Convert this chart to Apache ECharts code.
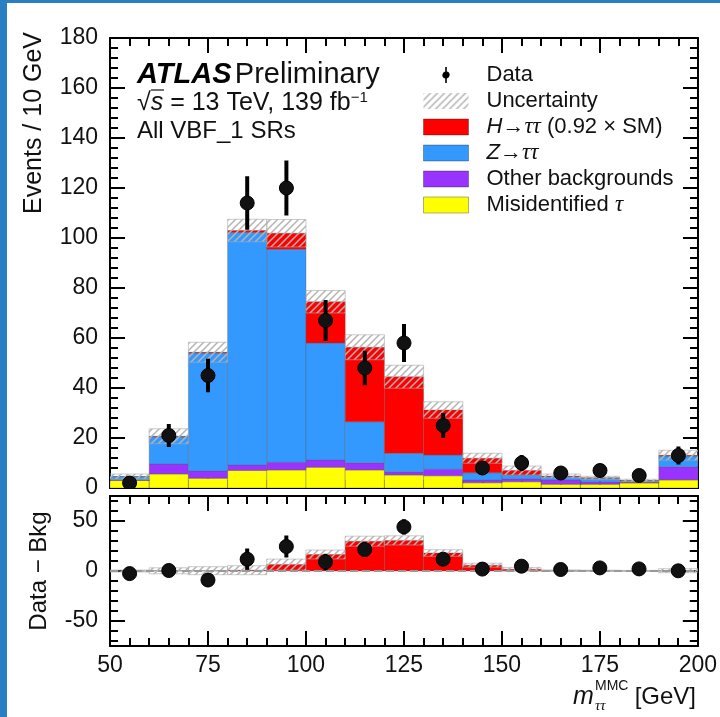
<!DOCTYPE html>
<html>
<head>
<meta charset="utf-8">
<title>VBF_1 mass distribution</title>
<script src="https://cdn.jsdelivr.net/npm/echarts@6.0.0/dist/echarts.min.js"></script>
<style>
  html, body { margin: 0; padding: 0; background: #fff; }
  #chart { position: absolute; left: 0; top: 0; width: 720px; height: 717px; }
  .edge { position: absolute; background: #2a7fc3; }
</style>
</head>
<body>
<div id="chart"></div>
<div class="edge" style="left:0;top:0;width:7px;height:717px"></div>
<div class="edge" style="left:0;top:0;width:720px;height:3px"></div>
<script>
var FONT = '"Liberation Sans", Arial, Helvetica, sans-serif';
var SERIF = '"Liberation Serif", "DejaVu Serif", serif';

// 10 GeV bins
var binEdges   = [50, 60, 70, 80, 90, 100, 110, 120, 130, 140, 150, 160, 170, 180, 190, 200];
var misidTau   = [3.0, 5.6, 3.9, 7.0, 7.2, 8.3, 7.2, 5.2, 4.9, 2.1, 2.5, 1.5, 1.5, 2.0, 3.2];
var otherBkg   = [0.3, 4.0, 2.9, 2.2, 3.1, 2.9, 2.9, 1.3, 2.6, 1.1, 1.1, 1.7, 1.0, 0.4, 5.3];
var zTauTau    = [1.3, 10.9, 47.2, 93.0, 85.2, 46.8, 16.4, 7.4, 5.7, 2.9, 1.6, 1.3, 1.4, 0.5, 4.3];
var hTauTau    = [0.0, 0.2, 0.3, 0.8, 6.4, 16.5, 29.8, 30.6, 18.0, 5.8, 1.8, 0.3, 0.2, 0.1, 0.3];
var dataCounts = [2, 21, 45, 114, 120, 67, 48, 58, 25, 8, 10, 6, 7, 5, 13];
var dataErr    = [1.4, 4.6, 6.7, 10.7, 11.0, 8.2, 6.9, 7.6, 5.0, 2.8, 3.2, 2.4, 2.6, 2.2, 3.6];
var systUnc    = [1.0, 3.0, 4.0, 4.5, 5.5, 4.5, 5.0, 4.6, 3.3, 2.0, 1.8, 0.8, 0.6, 0.5, 2.0];
var ratioMajorTicks = [-50, 0, 50];
var ratioMinorTicks = [-70, -60, -40, -30, -20, -10, 10, 20, 30, 40, 60, 70];

// grey hatch for the uncertainty band
function makeHatch() {
    var c = document.createElement('canvas');
    c.width = 7; c.height = 7;
    var ctx = c.getContext('2d');
    ctx.strokeStyle = '#b4b4b4';
    ctx.lineWidth = 1.5;
    ctx.beginPath();
    ctx.moveTo(-1, 8); ctx.lineTo(8, -1);
    ctx.moveTo(-4.5, 4.5); ctx.lineTo(4.5, -4.5);
    ctx.moveTo(2.5, 11.5); ctx.lineTo(11.5, 2.5);
    ctx.stroke();
    return {type: 'pattern', image: c, repeat: 'repeat'};
}
var hatch = makeHatch();

function renderBin(params, api) {
    var a = api.coord([api.value(0), api.value(3)]);
    var b = api.coord([api.value(1), api.value(2)]);
    return {
        type: 'rect',
        shape: {x: a[0], y: a[1], width: b[0] - a[0], height: b[1] - a[1]},
        style: {fill: api.visual('color'), stroke: 'rgba(90,90,90,0.35)', lineWidth: 1}
    };
}
function renderHatch(params, api) {
    var a = api.coord([api.value(0), api.value(3)]);
    var b = api.coord([api.value(1), api.value(2)]);
    return {
        type: 'rect',
        shape: {x: a[0], y: a[1], width: b[0] - a[0], height: b[1] - a[1]},
        style: {fill: hatch, stroke: 'rgba(170,170,170,0.6)', lineWidth: 1}
    };
}
function renderPoint(params, api) {
    var x = api.value(0), y = api.value(1), e = api.value(2);
    var c = api.coord([x, y]);
    var lo = api.coord([x, y - e]);
    var hi = api.coord([x, y + e]);
    return {
        type: 'group',
        children: [
            {type: 'line', shape: {x1: c[0], y1: lo[1], x2: c[0], y2: hi[1]}, style: {stroke: '#000', lineWidth: 4}},
            {type: 'circle', shape: {cx: c[0], cy: c[1], r: 7}, style: {fill: '#111', stroke: '#000', lineWidth: 1}}
        ]
    };
}

var stackDefs = [
    {key: 'misid', values: misidTau, color: '#ffff00'},
    {key: 'other', values: otherBkg, color: '#9933ff'},
    {key: 'ztt', values: zTauTau, color: '#3399ff'},
    {key: 'htt', values: hTauTau, color: '#ff0000'}
];
var totals = dataCounts.map(function () { return 0; });
var series = stackDefs.map(function (d) {
    var rows = d.values.map(function (v, i) {
        var r = [binEdges[i], binEdges[i + 1], totals[i], totals[i] + v];
        totals[i] += v;
        return r;
    });
    return {
        name: d.key, type: 'custom', xAxisIndex: 0, yAxisIndex: 0,
        renderItem: renderBin, encode: {x: [0, 1], y: [2, 3]},
        itemStyle: {color: d.color}, data: rows, z: 2, clip: true, animation: false
    };
});
series.push({
    name: 'Uncertainty', type: 'custom', xAxisIndex: 0, yAxisIndex: 0,
    renderItem: renderHatch, encode: {x: [0, 1], y: [2, 3]},
    itemStyle: {color: hatch}, z: 3, clip: true, animation: false,
    data: systUnc.map(function (u, i) { return [binEdges[i], binEdges[i + 1], totals[i] - u, totals[i] + u]; })
});
series.push({
    name: 'Data', type: 'custom', xAxisIndex: 0, yAxisIndex: 0,
    renderItem: renderPoint, encode: {x: 0, y: 1},
    itemStyle: {color: '#000'}, z: 5, clip: true, animation: false,
    data: dataCounts.map(function (n, i) { return [(binEdges[i] + binEdges[i + 1]) / 2, n, dataErr[i]]; })
});

// lower panel: data minus background
series.push({
    name: 'htt', type: 'custom', xAxisIndex: 2, yAxisIndex: 2,
    renderItem: renderBin, encode: {x: [0, 1], y: [2, 3]},
    itemStyle: {color: '#ff0000'}, z: 2, clip: true, animation: false,
    data: hTauTau.map(function (h, i) { return [binEdges[i], binEdges[i + 1], 0, h]; })
});
series.push({
    name: 'Uncertainty', type: 'custom', xAxisIndex: 2, yAxisIndex: 2,
    renderItem: renderHatch, encode: {x: [0, 1], y: [2, 3]},
    itemStyle: {color: hatch}, z: 3, clip: true, animation: false,
    data: systUnc.map(function (u, i) { return [binEdges[i], binEdges[i + 1], hTauTau[i] - u, hTauTau[i] + u]; })
});
series.push({
    name: 'Data', type: 'custom', xAxisIndex: 2, yAxisIndex: 2,
    renderItem: renderPoint, encode: {x: 0, y: 1},
    itemStyle: {color: '#000'}, z: 5, clip: true, animation: false,
    markLine: {
        silent: true, symbol: 'none', animation: false,
        label: {show: false},
        lineStyle: {color: '#999', type: 'dashed', width: 2},
        data: [{yAxis: 0}]
    },
    data: dataCounts.map(function (n, i) {
        var bkg = totals[i] - hTauTau[i];
        return [(binEdges[i] + binEdges[i + 1]) / 2, n - bkg, dataErr[i]];
    })
});

var axisLine = {show: true, onZero: false, lineStyle: {color: '#000', width: 2}};
function xAxisOf(grid, pos, labels) {
    return {
        type: 'value', gridIndex: grid, position: pos, min: 50, max: 200, interval: 25,
        axisLine: axisLine,
        axisTick: {inside: true, length: 15, lineStyle: {color: '#000', width: 2}},
        minorTick: {show: true, splitNumber: 5, length: 8, lineStyle: {color: '#000', width: 2}},
        axisLabel: {show: labels, fontFamily: FONT, fontSize: 23, color: '#111', margin: 8},
        splitLine: {show: false}
    };
}
function mainY(pos, labels) {
    return {
        type: 'value', gridIndex: 0, position: pos, min: 0, max: 180, interval: 20,
        axisLine: axisLine,
        axisTick: {inside: true, length: 15, lineStyle: {color: '#000', width: 2}},
        minorTick: {show: true, splitNumber: 5, length: 8, lineStyle: {color: '#000', width: 2}},
        axisLabel: {show: labels, fontFamily: FONT, fontSize: 23, color: '#111', margin: 12},
        splitLine: {show: false}
    };
}
function ratioY(pos, major) {
    return {
        type: 'value', gridIndex: 1, position: pos, min: -75, max: 75,
        axisLine: axisLine,
        axisTick: {inside: true, length: major ? 15 : 8, customValues: major ? ratioMajorTicks : ratioMinorTicks,
            lineStyle: {color: '#000', width: 2}},
        axisLabel: {show: major && pos === 'left', customValues: ratioMajorTicks,
            fontFamily: FONT, fontSize: 23, color: '#111', margin: 12},
        splitLine: {show: false}
    };
}

var legendLabels = {
    'Data': '{sp| }{n|Data}',
    'Uncertainty': '{sp| }{n|Uncertainty}',
    'htt': '{sp| }{i|H}{n|\u2192}{g|\u03c4\u03c4}{n| (0.92 \u00d7 SM)}',
    'ztt': '{sp| }{i|Z}{n|\u2192}{g|\u03c4\u03c4}',
    'other': '{sp| }{n|Other backgrounds}',
    'misid': '{sp| }{n|Misidentified }{g|\u03c4}'
};
var DATA_ICON = 'path://M4,0L6,0L6,5.61A4.5,4.5,0,0,1,6,14.39L6,20L4,20L4,14.39A4.5,4.5,0,0,1,4,5.61Z';
var rectBorder = {borderColor: 'rgba(0,0,0,0.3)', borderWidth: 1};

var option = {
    backgroundColor: '#fff',
    animation: false,
    grid: [
        {left: 110, top: 38, width: 588, height: 450},
        {left: 110, top: 496, width: 588, height: 150}
    ],
    xAxis: [xAxisOf(0, 'bottom', false), xAxisOf(0, 'top', false), xAxisOf(1, 'bottom', true), xAxisOf(1, 'top', false)],
    yAxis: [mainY('left', true), mainY('right', false), ratioY('left', true), ratioY('left', false), ratioY('right', true), ratioY('right', false)],
    legend: {
        orient: 'vertical', left: 423, top: 62, padding: 0, itemWidth: 45, itemHeight: 16, itemGap: 0,
        selectedMode: false,
        data: [
            {name: 'Data', icon: DATA_ICON, itemStyle: {color: '#000'}},
            {name: 'Uncertainty', icon: 'rect', itemStyle: {color: hatch, borderWidth: 0}},
            {name: 'htt', icon: 'rect', itemStyle: rectBorder},
            {name: 'ztt', icon: 'rect', itemStyle: rectBorder},
            {name: 'other', icon: 'rect', itemStyle: rectBorder},
            {name: 'misid', icon: 'rect', itemStyle: rectBorder}
        ],
        formatter: function (name) { return legendLabels[name]; },
        textStyle: {
            fontFamily: FONT, fontSize: 22, color: '#111', lineHeight: 26,
            rich: {
                sp: {width: 13, fontSize: 22, lineHeight: 26},
                n: {fontFamily: FONT, fontSize: 22, color: '#111', lineHeight: 26},
                i: {fontFamily: FONT, fontSize: 22, fontStyle: 'italic', color: '#111', lineHeight: 26},
                g: {fontFamily: SERIF, fontSize: 23, fontStyle: 'italic', color: '#111', lineHeight: 26}
            }
        }
    },
    graphic: [
        {type: 'text', x: 137, y: 75, style: {
            text: '{b|ATLAS} {n|Preliminary}', verticalAlign: 'middle', textVerticalAlign: 'middle',
            rich: {
                b: {fontFamily: FONT, fontSize: 29, fontWeight: 'bold', fontStyle: 'italic', fill: '#000'},
                n: {fontFamily: FONT, fontSize: 29, fill: '#111'}
            }
        }},
        {type: 'text', x: 137, y: 103, style: {
            text: '{n|\u221a}{s|s}{n| = 13 TeV, 139 fb}{sup|\u22121}', verticalAlign: 'middle', textVerticalAlign: 'middle',
            rich: {
                n: {fontFamily: FONT, fontSize: 25, fill: '#111'},
                s: {fontFamily: FONT, fontSize: 25, fontStyle: 'italic', fill: '#111'},
                sup: {fontFamily: FONT, fontSize: 15, fill: '#111', verticalAlign: 'top'}
            }
        }},
        {type: 'line', shape: {x1: 151, y1: 90, x2: 164, y2: 90}, style: {stroke: '#111', lineWidth: 1.2}},
        {type: 'text', x: 137, y: 131, style: {
            text: 'All VBF_1 SRs', fontFamily: FONT, fontSize: 24, fill: '#111',
            verticalAlign: 'middle', textVerticalAlign: 'middle'
        }},
        {type: 'text', x: 34, y: 32, rotation: Math.PI / 2, style: {
            text: 'Events / 10 GeV', fontFamily: FONT, fontSize: 25, fill: '#111',
            align: 'right', textAlign: 'right', verticalAlign: 'middle', textVerticalAlign: 'middle'
        }},
        {type: 'text', x: 39, y: 571, rotation: Math.PI / 2, style: {
            text: 'Data \u2212 Bkg', fontFamily: FONT, fontSize: 24, fill: '#111',
            align: 'center', textAlign: 'center', verticalAlign: 'middle', textVerticalAlign: 'middle'
        }},
        {type: 'text', x: 573, y: 697, style: {
            text: 'm', fontFamily: FONT, fontSize: 25, fontStyle: 'italic', fill: '#111',
            verticalAlign: 'middle', textVerticalAlign: 'middle'
        }},
        {type: 'text', x: 595, y: 686, style: {
            text: 'MMC', fontFamily: FONT, fontSize: 14, fill: '#111',
            verticalAlign: 'middle', textVerticalAlign: 'middle'
        }},
        {type: 'text', x: 595, y: 706, style: {
            text: '\u03c4\u03c4', fontFamily: SERIF, fontSize: 15, fontStyle: 'italic', fill: '#111',
            verticalAlign: 'middle', textVerticalAlign: 'middle'
        }},
        {type: 'text', x: 696, y: 697, style: {
            text: '[GeV]', fontFamily: FONT, fontSize: 24, fill: '#111',
            align: 'right', textAlign: 'right', verticalAlign: 'middle', textVerticalAlign: 'middle'
        }}
    ],
    series: series
};

var chart = echarts.init(document.getElementById('chart'));
chart.setOption(option);
</script>
</body>
</html>
